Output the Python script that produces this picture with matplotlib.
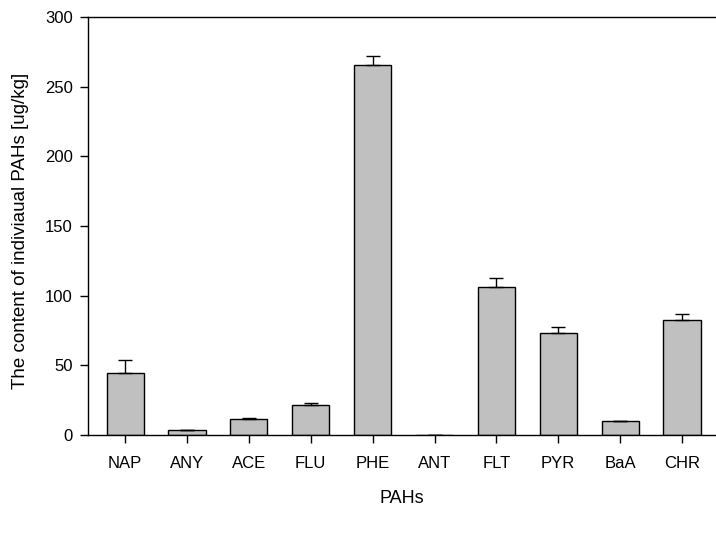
import matplotlib
matplotlib.use("Agg")
import matplotlib.pyplot as plt
import numpy as np

categories = ["NAP", "ANY", "ACE", "FLU", "PHE", "ANT", "FLT", "PYR", "BaA", "CHR"]
values = [44.4, 3.2, 11.3, 21.2, 265.5, 0.0, 106.0, 73.3, 9.7, 82.7]
errors = [9.3, 0.5, 0.9, 1.5, 6.5, 0.0, 7.0, 4.5, 0.5, 3.8]

plt.rcParams['font.family'] = ['Liberation Sans', 'DejaVu Sans']

fig = plt.figure(figsize=(7.16, 5.35), dpi=100)
ax = fig.add_axes([0.123, 0.187, 0.877, 0.781])

x = np.arange(len(categories))
ax.bar(x, values, width=0.6, color='#c0c0c0', edgecolor='black', linewidth=1.0, zorder=2)
ax.errorbar(x, values, yerr=[np.zeros(len(errors)), errors], fmt='none',
            ecolor='black', elinewidth=1.0, capsize=4.7, capthick=1.0, zorder=3)

ax.set_xlim(-0.6, 9.55)
ax.set_ylim(0, 300)
ax.set_yticks(np.arange(0, 301, 50))
ax.set_xticks(x)
ax.set_xticklabels(categories)

ax.spines['right'].set_visible(False)
for s in ['left', 'bottom', 'top']:
    ax.spines[s].set_linewidth(1.0)
    ax.spines[s].set_zorder(4)

ax.tick_params(axis='both', direction='out', length=6, width=1.0, labelsize=12)
ax.tick_params(axis='x', pad=9)
ax.tick_params(axis='y', pad=5)
ax.set_xlabel('PAHs', fontsize=13, labelpad=14)
ax.set_ylabel('The content of indiviaual PAHs [ug/kg]', fontsize=13.5)
ax.yaxis.set_label_coords(-0.094, 0.488)

fig.savefig('out.png', dpi=100)
